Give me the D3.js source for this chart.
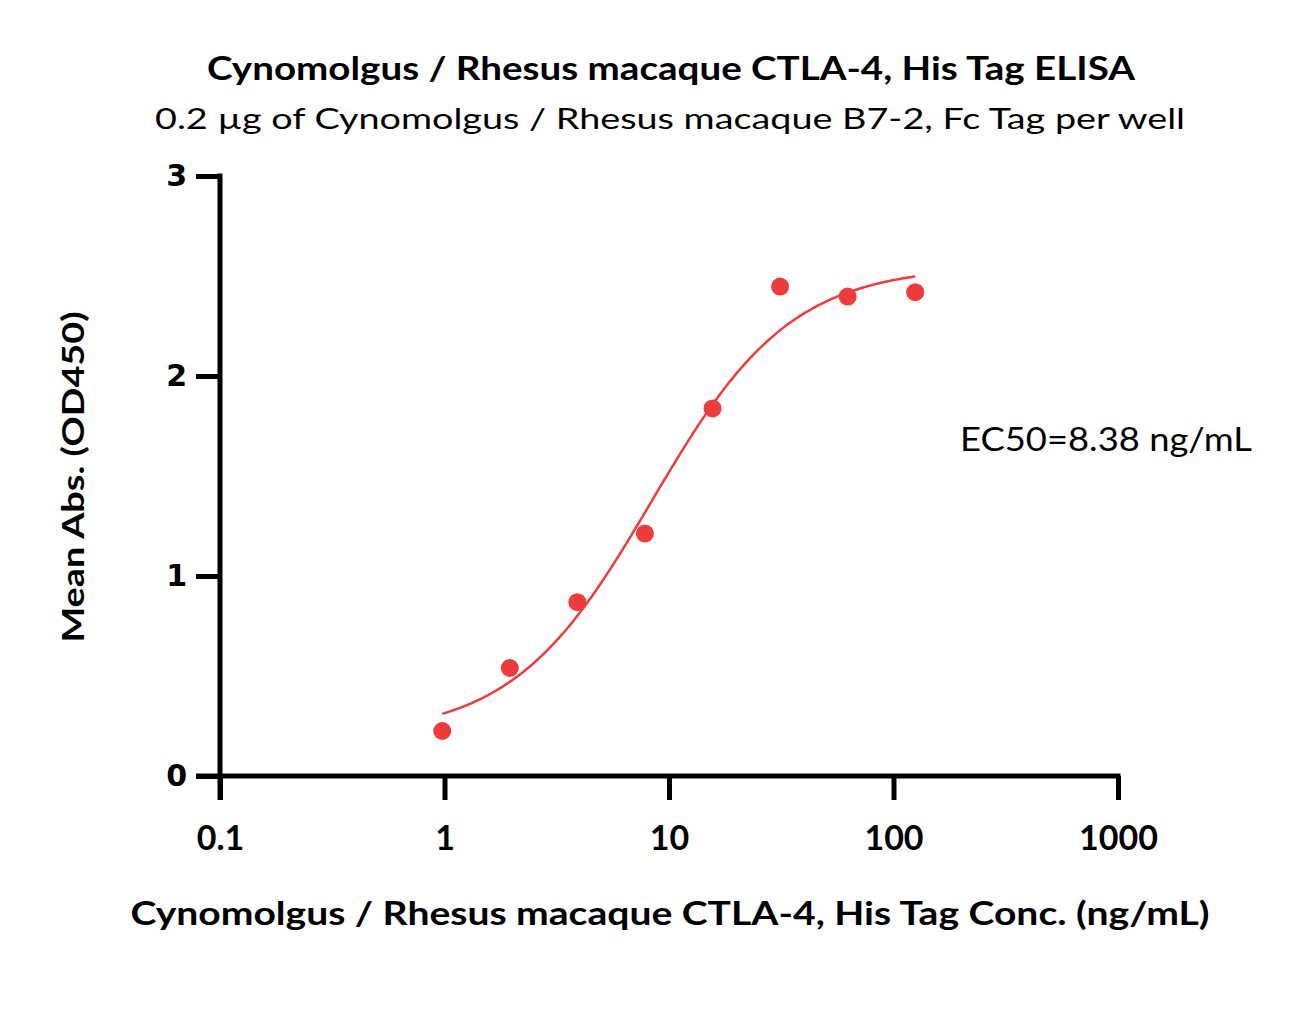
<!DOCTYPE html>
<html><head><meta charset="utf-8">
<script src="https://cdn.jsdelivr.net/npm/d3@7"></script>
<style>body{margin:0;background:#fff}svg{display:block}</style>
</head><body>
<svg id="chart" width="1297" height="1032"></svg>
<script>
const concentrations = [0.977, 1.953, 3.906, 7.8125, 15.625, 31.25, 62.5, 125];
const meanAbs = [0.225, 0.54, 0.869, 1.212, 1.838, 2.447, 2.397, 2.419];
const xTicks = [0.1, 1, 10, 100, 1000];
const xTickLabels = ["0.1", "1", "10", "100", "1000"];
const yTicks = [0, 1, 2, 3];
const fitBottom = 0.2, fitTop = 2.55, fitEC50 = 8.38, fitHill = 1.4;
const fitRange = [0.977, 125];
const titleText = "Cynomolgus / Rhesus macaque CTLA-4, His Tag ELISA";
const subtitleText = "0.2 µg of Cynomolgus / Rhesus macaque B7-2, Fc Tag per well";
const xTitle = "Cynomolgus / Rhesus macaque CTLA-4, His Tag Conc. (ng/mL)";
const yTitle = "Mean Abs. (OD450)";
const ec50Label = "EC50=8.38 ng/mL";

const red = "#ef3b3c";
const svg = d3.select("#chart");
const x = d3.scaleLog().domain([0.1, 1000]).range([220, 1118]);
const y = d3.scaleLinear().domain([0, 3]).range([776, 176]);
const font = "Lato, 'Open Sans', sans-serif";

// axes
const xAxis = svg.append("g").attr("transform", "translate(0,776)")
  .call(d3.axisBottom(x).tickValues(xTicks).tickFormat((d,i)=>xTickLabels[i]).tickSize(24).tickSizeOuter(0));
const yAxis = svg.append("g").attr("transform", "translate(220,0)")
  .call(d3.axisLeft(y).tickValues(yTicks).tickFormat(d3.format("d")).tickSize(24).tickSizeOuter(0).tickPadding(9));
[xAxis, yAxis].forEach(g => {
  g.select(".domain").attr("stroke", "#000").attr("stroke-width", 5);
  g.selectAll(".tick line").attr("stroke", "#000").attr("stroke-width", 5);
});
xAxis.select(".domain").attr("d", `M${196},0H${x(1000)+2.5}`);
yAxis.select(".domain").attr("d", `M0,${y(3)-2.5}V${776+24}`);
xAxis.selectAll(".tick text").attr("font-family", font).attr("font-weight", "bold")
  .attr("font-size", 34).attr("fill", "#000").attr("y", 74).attr("dy", 0);
yAxis.selectAll(".tick text").attr("font-family", "'DejaVu Sans', sans-serif").attr("font-weight", "bold")
  .attr("font-size", 30).attr("fill", "#000");

// fit curve
const curve = d3.range(0, 201).map(i => {
  const c = Math.pow(10, Math.log10(fitRange[0]) + i/200*(Math.log10(fitRange[1]) - Math.log10(fitRange[0])));
  return [c, fitBottom + (fitTop - fitBottom) / (1 + Math.pow(fitEC50 / c, fitHill))];
});
svg.append("path").datum(curve)
  .attr("d", d3.line().x(d=>x(d[0])).y(d=>y(d[1])))
  .attr("fill", "none").attr("stroke", red).attr("stroke-width", 2.5);

// points
svg.append("g").selectAll("circle").data(concentrations).join("circle")
  .attr("cx", d=>x(d)).attr("cy", (d,i)=>y(meanAbs[i])).attr("r", 9).attr("fill", red);

// texts
function txt(s, xx, yy, size, weight, len, anchor) {
  const t = svg.append("text").attr("x", xx).attr("y", yy).attr("font-family", font)
    .attr("font-size", size).attr("font-weight", weight).attr("fill", "#000")
    .attr("text-anchor", anchor || "middle").text(s);
  if (len) t.attr("textLength", len).attr("lengthAdjust", "spacingAndGlyphs");
  return t;
}
txt(titleText, 671, 80, 32, "bold", 928);
txt(subtitleText, 670, 129, 29, "normal", 1030);
txt(xTitle, 670, 925, 33, "bold", 1079);
txt(ec50Label, 960, 451, 33, "normal", 292, "start");
svg.append("text").attr("transform", "translate(84,477) rotate(-90)")
  .attr("font-family", font).attr("font-size", 31).attr("font-weight", "bold")
  .attr("text-anchor", "middle").attr("textLength", 331).attr("lengthAdjust", "spacingAndGlyphs")
  .text(yTitle);
</script>
</body></html>
